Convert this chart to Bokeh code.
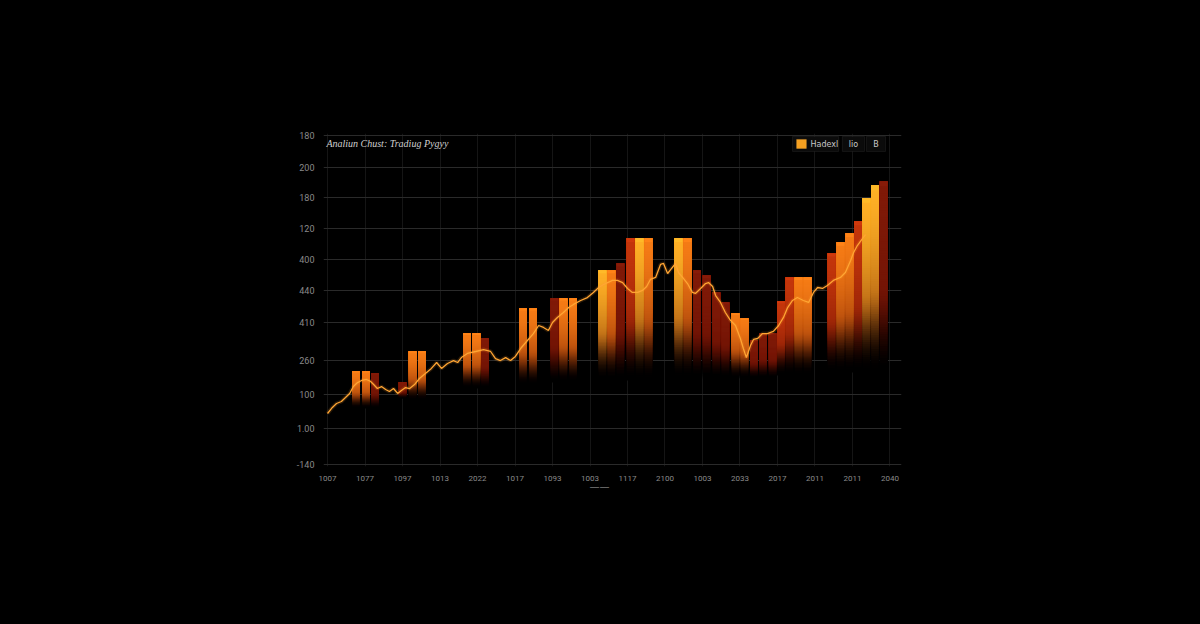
import numpy as np
from bokeh.plotting import figure
from bokeh.models import (Range1d, FixedTicker, Label, BoxAnnotation, ColumnDataSource,
                          LinearAxis)
from bokeh.embed import file_html
from bokeh.resources import INLINE

# ---------------- data ----------------
x_tick_values = [0, 10, 20, 30, 40, 50, 60, 70, 80, 90, 100, 110, 120, 130, 140, 150]
x_tick_labels = ["1007", "1077", "1097", "1013", "2022", "1017", "1093", "1003",
                 "1117", "2100", "1003", "2033", "2017", "2011", "2011", "2040"]

y_tick_values = [0, 21.9, 42.6, 63.2, 86.3, 105.8, 124.6, 143.5, 162.3, 180.5, 200]
y_tick_labels = ["-140", "1.00", "100", "260", "410", "440", "400", "120", "180", "200", "180"]

bar_x = [7.6, 10.3, 12.7, 20.0, 22.7, 25.2, 37.2, 39.7, 42.0, 52.1, 54.8,
         60.5, 62.9, 65.5, 73.3, 75.7, 78.1, 80.8, 83.2, 85.6,
         93.6, 96.0, 98.5, 101.1, 103.7, 106.1, 108.8, 111.2, 113.7, 116.1, 118.7,
         120.9, 123.2, 125.6, 128.0, 134.4, 136.8, 139.2, 141.5, 143.7, 146.0, 148.3]
bar_high = [56.5, 56.5, 55.3, 49.8, 68.7, 68.7, 79.6, 79.6, 76.6, 94.8, 94.8,
            100.9, 100.9, 100.9, 117.9, 117.9, 122.2, 137.4, 137.4, 137.4,
            137.4, 137.4, 117.9, 114.9, 104.6, 98.5, 91.8, 88.8, 75.4, 79.6, 79.6,
            99.1, 113.7, 113.7, 113.7, 128.3, 135.0, 140.4, 147.7, 161.7, 169.6, 172.0]
bar_low = [34.0, 34.0, 34.0, 40.1, 38.9, 38.9, 46.2, 46.2, 46.2, 48.0, 48.0,
           49.8, 49.8, 49.8, 51.1, 51.1, 51.1, 51.1, 51.1, 51.1,
           52.3, 52.3, 52.3, 52.3, 52.3, 52.3, 52.3, 52.3, 52.3, 52.3, 52.3,
           54.1, 54.1, 54.1, 54.1, 55.9, 55.9, 55.9, 55.9, 55.9, 55.9, 55.9]
bar_tone = ["orange", "orange", "maroon", "maroon", "orange", "orange", "orange", "orange",
            "maroon", "orange", "orange", "maroon", "orange", "orange", "amber", "orange",
            "maroon", "red", "amber", "orange", "amber", "orange", "maroon", "maroon",
            "maroon", "maroon", "orange", "orange", "maroon", "maroon", "maroon", "red",
            "red", "orange", "orange", "red", "orange", "orange", "red", "amber", "amber", "maroon"]

line_x = [0.0, 1.3, 2.4, 3.7, 4.8, 5.9, 6.9, 8.0, 9.1, 10.4, 11.5, 12.3, 13.3, 14.4, 15.5,
          16.5, 17.6, 18.7, 19.7, 20.8, 21.9, 23.2, 24.5, 26.1, 27.7, 29.1, 30.4, 32.0,
          33.6, 34.7, 35.7, 37.3, 39.5, 41.6, 43.5, 44.8, 46.1, 47.5, 48.8, 50.1, 51.5,
          53.3, 54.9, 56.3, 57.6, 58.9, 60.0, 61.3, 62.9, 64.3, 65.6, 67.5, 69.3, 70.9,
          72.3, 73.6, 74.7, 76.0, 77.3, 78.7, 80.0, 81.3, 82.7, 84.0, 85.1, 86.1, 87.5,
          88.8, 89.6, 90.7, 91.5, 92.8, 93.6, 94.7, 96.0, 97.3, 98.1, 99.5, 100.8, 101.6,
          102.7, 103.5, 104.8, 106.1, 107.5, 108.8, 110.1, 110.9, 111.7, 112.8, 113.6,
          114.7, 116.0, 117.3, 118.9, 120.3, 121.6, 122.7, 124.0, 125.3, 126.9, 128.3,
          129.6, 130.7, 132.0, 133.3, 134.9, 136.8, 138.1, 139.5, 140.3, 141.3, 142.7, 143.5]
line_y = [31.0, 34.7, 37.1, 38.3, 40.7, 43.2, 47.4, 49.8, 51.1, 51.7, 50.5, 48.6, 46.2,
          47.4, 45.6, 44.4, 46.2, 43.2, 45.0, 46.8, 46.2, 48.6, 52.3, 55.3, 58.4, 62.0,
          58.4, 61.4, 63.2, 62.0, 65.0, 67.5, 68.7, 69.9, 68.7, 64.4, 63.2, 65.0, 63.2,
          65.7, 70.5, 75.4, 79.6, 84.5, 83.3, 81.5, 86.3, 89.4, 92.4, 95.4, 97.3, 99.7,
          101.5, 104.6, 107.6, 109.4, 110.6, 111.9, 111.9, 110.6, 107.0, 104.6, 104.6,
          105.8, 108.2, 112.5, 113.7, 121.6, 122.2, 116.1, 118.5, 122.2, 116.7, 113.7,
          110.0, 104.6, 104.0, 107.0, 110.0, 110.6, 108.2, 102.7, 98.5, 92.4, 87.5, 84.5,
          76.6, 70.5, 65.0, 72.3, 76.0, 76.6, 79.6, 79.6, 80.9, 84.5, 89.4, 95.4, 99.7,
          101.5, 99.7, 98.5, 104.6, 107.6, 107.0, 108.8, 111.9, 113.7, 116.7, 124.0,
          128.9, 133.1, 137.4, 139.8]

title_text = "Analiun Chust:  Tradiug Pygyy"
legend_texts = ["Hadexl", "lio", "B"]
selected_tick = 72.5

# ---------------- styling helpers ----------------
tone_rgb = {"amber": (255, 176, 38), "orange": (246, 124, 22),
            "red": (196, 54, 12), "maroon": (128, 26, 8)}
deep = np.array([92, 10, 0], float)


def smoothstep(a, b, t):
    u = min(max((t - a) / (b - a), 0.0), 1.0)
    return u * u * (3 - 2 * u)


n_slices = 80
bw = 2.05
q_left, q_right, q_bottom, q_top, q_color = [], [], [], [], []
for x, hi, lo, tone in zip(bar_x, bar_high, bar_low, bar_tone):
    c0 = np.array(tone_rgb[tone], float)
    for k in range(n_slices):
        t = 1.0 - k / n_slices          # 1 at bottom, ~0 at top
        y0 = lo + (hi - lo) * k / n_slices
        mix = 0.85 * t ** 1.6
        c = c0 * (1 - mix) + deep * mix
        c = c * (1 - smoothstep(0.55, 1.0, t))
        if k >= n_slices - 2:
            c = np.minimum(c0 * 1.06, 255)
        q_left.append(x - bw / 2)
        q_right.append(x + bw / 2)
        q_bottom.append(y0)
        q_top.append(hi)
        q_color.append("#%02x%02x%02x" % tuple(int(v) for v in np.clip(c, 0, 255)))

bars_src = ColumnDataSource(dict(left=q_left, right=q_right, bottom=q_bottom,
                                 top=q_top, color=q_color))

# ---------------- figure ----------------
p = figure(width=1184, height=608, output_backend="svg", toolbar_location=None,
           x_range=Range1d(-1.07, 153.07), y_range=Range1d(-1.2, 201.2),
           min_border_left=323, min_border_right=283, min_border_top=133,
           min_border_bottom=142, background_fill_color="#000000",
           border_fill_color="#000000", outline_line_color=None)

p.quad(left="left", right="right", bottom="bottom", top="top", source=bars_src,
       fill_color="color", line_color=None)

p.line(line_x, line_y, line_color="#ff9a2a", line_width=4, line_alpha=0.16)
p.line(line_x, line_y, line_color="#ffa533", line_width=1.3)

# axes
p.xaxis.ticker = FixedTicker(ticks=x_tick_values)
p.xaxis.major_label_overrides = {v: s for v, s in zip(x_tick_values, x_tick_labels)}
p.yaxis.ticker = FixedTicker(ticks=y_tick_values)
p.yaxis.major_label_overrides = {v: s for v, s in zip(y_tick_values, y_tick_labels)}
for ax in (p.xaxis, p.yaxis):
    ax.axis_line_color = None
    ax.major_tick_line_color = None
    ax.minor_tick_line_color = None
    ax.major_label_text_color = "#8a8a8a"
    ax.major_label_text_font = "Roboto"
p.xaxis.major_label_text_font_size = "8px"
p.yaxis.major_label_text_font_size = "9px"
p.xaxis.major_label_standoff = 3
p.yaxis.major_label_standoff = 3

# indicator under the selected x tick (extra axis below the first one)
sel_axis = LinearAxis(ticker=FixedTicker(ticks=[selected_tick]),
                      major_label_overrides={selected_tick: "\u2014\u2014"},
                      axis_line_color=None, major_tick_line_color=None,
                      minor_tick_line_color=None, major_label_text_color="#7a7a7a",
                      major_label_text_font="DejaVu Sans",
                      major_label_text_font_size="10px", major_label_standoff=-9)
p.add_layout(sel_axis, "below")

p.ygrid.ticker = FixedTicker(ticks=y_tick_values)
p.ygrid.grid_line_color = "#2a2a2a"
p.ygrid.grid_line_width = 1
p.xgrid.ticker = FixedTicker(ticks=x_tick_values)
p.xgrid.grid_line_color = "#151515"
p.xgrid.grid_line_width = 1

# title inside the frame
p.add_layout(Label(x=-0.3, y=195.1, text=title_text, text_font="Liberation Serif",
                   text_font_style="italic", text_font_size="10px",
                   text_color="#cfcfcf", text_baseline="middle"))

# legend-like buttons
for l, r in [(124.0, 136.3), (137.3, 143.2), (143.7, 148.8)]:
    p.add_layout(BoxAnnotation(left=l, right=r, bottom=190.3, top=199.4,
                               fill_color="#0b0b0b", fill_alpha=1, line_color="#3c3c3c",
                               line_width=1))
p.add_layout(BoxAnnotation(left=125.1, right=127.7, bottom=192.1, top=197.6,
                           fill_color="#f5a020", fill_alpha=1, line_color="#ffb23a",
                           line_width=1))
p.add_layout(Label(x=128.8, y=194.8, text=legend_texts[0], text_font="DejaVu Sans",
                   text_font_size="8px", text_color="#c8c8c8", text_baseline="middle"))
p.add_layout(Label(x=140.25, y=194.8, text=legend_texts[1], text_font="DejaVu Sans",
                   text_font_size="8px", text_color="#c8c8c8", text_baseline="middle",
                   text_align="center"))
p.add_layout(Label(x=146.25, y=194.8, text=legend_texts[2], text_font="DejaVu Sans",
                   text_font_size="8px", text_color="#c8c8c8", text_baseline="middle",
                   text_align="center"))

html = file_html(p, INLINE, title="chart")
html = html.replace("<head>", "<head><style>html,body{background:#000000;margin:0;}</style>", 1)
open("out.html", "w").write(html)
